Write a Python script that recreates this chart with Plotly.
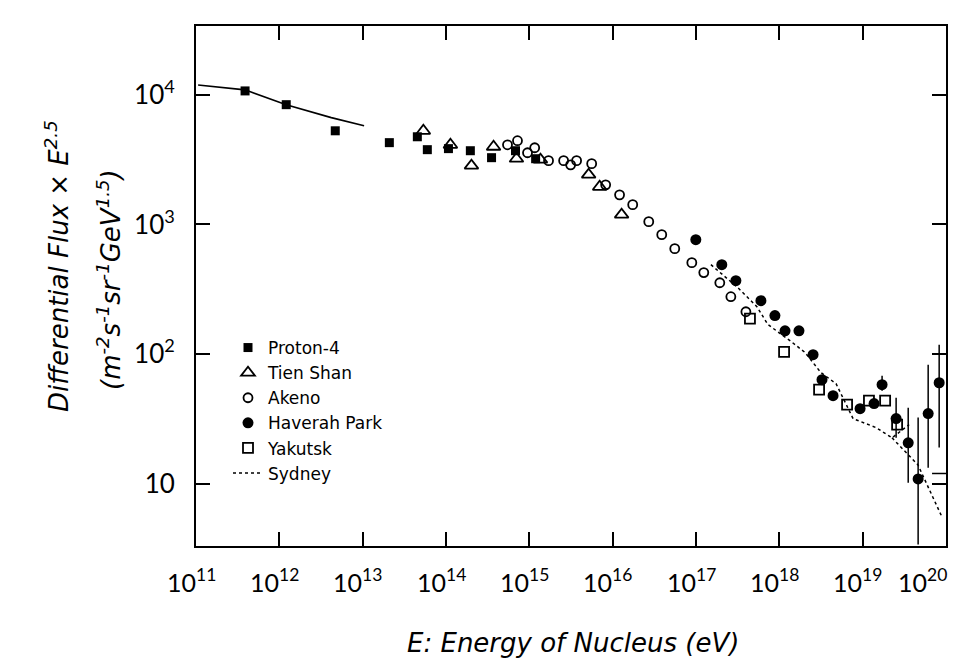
import math
import plotly.graph_objects as go

# ---------------- data ----------------
protan_E = [3.88e11, 1.21e12, 4.69e12, 2.09e13, 4.53e13, 5.97e13, 1.07e14, 1.96e14, 3.52e14, 6.82e14, 1.19e15]
protan_F = [10700, 8380, 5270, 4270, 4740, 3770, 3840, 3700, 3270, 3700, 3210]

protan_fit_E = [1.06e11, 3.88e11, 1.21e12, 4.20e12, 1.04e13]
protan_fit_F = [11900, 10900, 8380, 6660, 5770]

tien_E = [5.35e13, 1.13e14, 2.02e14, 3.72e14, 7.01e14, 1.36e15, 5.15e15, 6.98e15, 1.28e16]
tien_F = [5270, 4110, 2840, 3970, 3210, 3160, 2420, 1950, 1190]

akeno_E = [5.47e14, 7.21e14, 9.51e14, 1.16e15, 1.70e15, 2.58e15, 3.13e15, 3.69e15, 5.60e15, 8.24e15,
           1.21e16, 1.74e16, 2.71e16, 3.88e16, 5.56e16, 8.91e16, 1.24e17, 1.93e17, 2.62e17, 3.97e17]
akeno_F = [4110, 4420, 3570, 3900, 3100, 3100, 2880, 3100, 2940, 2020,
           1690, 1420, 1050, 834, 650, 507, 425, 355, 277, 212]

haverah_E = [9.95e16, 2.04e17, 3.01e17, 6.01e17, 8.85e17, 1.17e18, 1.72e18, 2.54e18, 3.25e18, 4.41e18,
             9.31e18, 1.37e19, 1.71e19, 2.52e19, 3.52e19, 4.63e19, 6.11e19, 8.28e19]
haverah_F = [762, 489, 368, 258, 198, 151, 151, 98.9, 63.5, 47.8,
             37.9, 41.5, 58.1, 31.8, 20.7, 10.9, 34.8, 60.1]
haverah_hi = [762, 489, 368, 258, 198, 151, 151, 98.9, 63.5, 47.8,
              37.9, 41.5, 68.1, 46.1, 38.6, 32.4, 82.8, 118]
haverah_lo = [762, 489, 368, 258, 198, 151, 151, 98.9, 63.5, 47.8,
              37.9, 41.5, 52.2, 22.6, 10.2, 3.4, 13.3, 19.0]

yakutsk_E = [4.44e17, 1.14e18, 3.00e18, 6.50e18, 1.19e19, 1.86e19, 2.59e19]
yakutsk_F = [188, 104, 53.2, 40.7, 43.8, 43.8, 28.6]

sydney_E = [1.51e17, 3.18e17, 5.38e17, 7.29e17, 1.34e18, 2.03e18, 3.16e18, 4.79e18, 7.67e18, 1.45e19, 2.25e19, 3.61e19]
sydney_F = [489, 325, 232, 169, 127, 103, 71.9, 59.2, 31.8, 27.1, 22.6, 28.6]
sydney_low_E = [2.25e19, 4.6e19, 9.0e19]
sydney_low_F = [22.6, 14.0, 5.5]
sydney_lim_E = [6.8e19, 1.0e20]
sydney_lim_F = [12.0, 12.0]

x_tickvals = [1e11, 1e12, 1e13, 1e14, 1e15, 1e16, 1e17, 1e18, 1e19, 1e20]
x_ticktext = ["10<sup>11</sup>", "10<sup>12</sup>", "10<sup>13</sup>", "10<sup>14</sup>", "10<sup>15</sup>",
              "10<sup>16</sup>", "10<sup>17</sup>", "10<sup>18</sup>", "10<sup>19</sup>", "10<sup>20</sup>"]
y_tickvals = [10.0, 100.0, 1000.0, 10000.0]
y_ticktext = ["10", "10<sup>2</sup>", "10<sup>3</sup>", "10<sup>4</sup>"]

# ---------------- figure ----------------
TICKFONT = "Lato, 'Open Sans', sans-serif"
TEXTFONT = "'DejaVu Sans', sans-serif"
fig = go.Figure()

fig.add_trace(go.Scatter(x=protan_fit_E, y=protan_fit_F, mode="lines",
                         line=dict(color="black", width=1.6), showlegend=False, hoverinfo="skip"))
fig.add_trace(go.Scatter(x=protan_E, y=protan_F, mode="markers", name="Proton-4",
                         marker=dict(symbol="square", size=9, color="black")))
fig.add_trace(go.Scatter(x=tien_E, y=tien_F, mode="markers", name="Tien Shan",
                         marker=dict(symbol="triangle-up-open", size=12, color="black", line=dict(width=1.8))))
fig.add_trace(go.Scatter(x=akeno_E, y=akeno_F, mode="markers", name="Akeno",
                         marker=dict(symbol="circle-open", size=9, color="black", line=dict(width=1.8))))
err_plus = [h - f for h, f in zip(haverah_hi, haverah_F)]
err_minus = [f - l for f, l in zip(haverah_F, haverah_lo)]
fig.add_trace(go.Scatter(x=haverah_E, y=haverah_F, mode="markers", name="Haverah Park",
                         marker=dict(symbol="circle", size=11, color="black"),
                         error_y=dict(type="data", array=err_plus, arrayminus=err_minus,
                                      color="black", thickness=1.5, width=0)))
fig.add_trace(go.Scatter(x=yakutsk_E, y=yakutsk_F, mode="markers", name="Yakutsk",
                         marker=dict(symbol="square-open", size=10, color="black", line=dict(width=1.8))))
fig.add_trace(go.Scatter(x=sydney_E, y=sydney_F, mode="lines", name="Sydney",
                         line=dict(color="black", width=1.5, dash="dot")))
fig.add_trace(go.Scatter(x=sydney_low_E, y=sydney_low_F, mode="lines", showlegend=False,
                         line=dict(color="black", width=1.5, dash="dot")))
fig.add_trace(go.Scatter(x=sydney_lim_E, y=sydney_lim_F, mode="lines", showlegend=False,
                         line=dict(color="black", width=1.5)))

axis_common = dict(type="log", showline=True, linecolor="black", linewidth=2, mirror="ticks",
                   ticks="inside", ticklen=14, tickwidth=1.5, tickcolor="black",
                   showgrid=False, zeroline=False,
                   tickfont=dict(family=TICKFONT, size=26, color="black"))

# x tick labels are placed as axis-anchored annotations (so the last one stays inside the page)
fig.update_xaxes(range=[11, 20], tickvals=x_tickvals, showticklabels=False, **axis_common)
fig.update_yaxes(range=[0.52, 4.53], tickvals=y_tickvals, ticktext=y_ticktext,
                 ticklabelstandoff=14, **axis_common)

PW, PH, L, T = 750, 520, 188, 18


def px(xp):
    return (xp - L) / PW


def py(yp):
    return (T + PH - yp) / PH


annotations = []
for i, (v, t) in enumerate(zip(x_tickvals, x_ticktext)):
    shift = -24 if i == len(x_tickvals) - 1 else -5
    annotations.append(dict(text=t, xref="x", yref="paper", x=math.log10(v), y=py(572),
                            xanchor="center", yanchor="middle", xshift=shift, showarrow=False,
                            font=dict(family=TICKFONT, size=25, color="black")))

annotations += [
    dict(text="<i>Differential Flux × E<sup>2.5</sup></i>", xref="paper", yref="paper",
         x=px(30), y=py(258), textangle=-90, showarrow=False,
         font=dict(family=TEXTFONT, size=26, color="black")),
    dict(text="<i>(m<sup>-2</sup>s<sup>-1</sup>sr<sup>-1</sup>GeV<sup>1.5</sup>)</i>", xref="paper", yref="paper",
         x=px(82), y=py(272), textangle=-90, showarrow=False,
         font=dict(family=TEXTFONT, size=26, color="black")),
    dict(text="<i>E: Energy of Nucleus (eV)</i>", xref="paper", yref="paper",
         x=px(565), y=py(652), showarrow=False,
         font=dict(family=TEXTFONT, size=26, color="black")),
]

fig.update_layout(
    width=962, height=671,
    margin=dict(l=L, r=962 - L - PW, t=T, b=671 - T - PH),
    paper_bgcolor="white", plot_bgcolor="white",
    font=dict(family=TEXTFONT, color="black"),
    showlegend=True,
    legend=dict(x=px(220), y=py(322), xanchor="left", yanchor="top",
                bgcolor="rgba(0,0,0,0)", font=dict(family=TEXTFONT, size=17, color="black"),
                tracegroupgap=0, itemwidth=30),
    annotations=annotations,
)

fig.write_html("out.html")
